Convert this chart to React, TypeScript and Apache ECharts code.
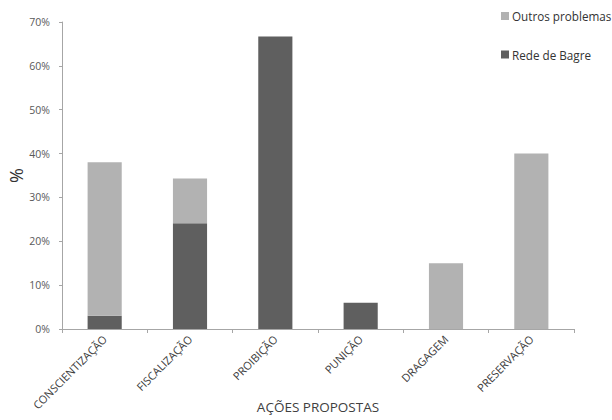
import React, { useEffect, useRef } from "react";
import * as echarts from "echarts";

const categories = ["CONSCIENTIZAÇÃO", "FISCALIZAÇÃO", "PROIBIÇÃO", "PUNIÇÃO", "DRAGAGEM", "PRESERVAÇÃO"];
const redeDeBagre = [3, 24.1, 66.7, 6, 0, 0];
const outrosProblemas = [35, 10.2, 0, 0, 15, 40];
const yTicks = { min: 0, max: 70, interval: 10 };

const FONT = "'Open Sans', 'Liberation Sans', sans-serif";

export default function App() {
  const ref = useRef<HTMLDivElement>(null);
  useEffect(() => {
    if (!ref.current) return;
    const chart = echarts.init(ref.current, null, { renderer: "svg" });
    chart.setOption({
      animation: false,
      textStyle: { fontFamily: FONT },
      grid: { left: 62, right: 38, top: 22, bottom: 91, containLabel: false, outerBoundsMode: "none" },
      legend: {
        orient: "vertical",
        left: 496,
        top: 4,
        itemWidth: 8,
        itemHeight: 8,
        itemGap: 24.5,
        icon: "rect",
        data: ["Outros problemas", "Rede de Bagre"],
        textStyle: { fontSize: 11.7, color: "#333", fontFamily: FONT, lineHeight: 14, padding: [0, 0, 0, -2] },
      },
      xAxis: {
        type: "category",
        data: categories,
        name: "AÇÕES PROPOSTAS",
        nameLocation: "middle",
        nameGap: 71,
        nameMoveOverlap: false,
        nameTextStyle: { fontSize: 13.5, color: "#404040", fontFamily: FONT },
        axisLine: { lineStyle: { color: "#a6a6a6" } },
        axisTick: { show: true, alignWithLabel: false, length: 4, lineStyle: { color: "#a6a6a6" } },
        axisLabel: { rotate: 45, fontSize: 11, color: "#404040", margin: 8, fontFamily: FONT, interval: 0 },
      },
      yAxis: {
        type: "value",
        min: yTicks.min,
        max: yTicks.max,
        interval: yTicks.interval,
        name: "%",
        nameLocation: "middle",
        nameGap: 37,
        nameMoveOverlap: false,
        nameRotate: 90,
        nameTextStyle: { fontSize: 18, color: "#333", fontFamily: FONT },
        axisLine: { show: true, lineStyle: { color: "#a6a6a6" } },
        axisTick: { show: true, length: 3, lineStyle: { color: "#a6a6a6" } },
        splitLine: { show: false },
        axisLabel: { formatter: "{value}%", fontSize: 10.5, color: "#595959", margin: 12, fontFamily: FONT },
      },
      series: [
        {
          name: "Rede de Bagre",
          type: "bar",
          stack: "total",
          barWidth: "40%",
          data: redeDeBagre,
          itemStyle: { color: "#5f5f5f" },
        },
        {
          name: "Outros problemas",
          type: "bar",
          stack: "total",
          barWidth: "40%",
          data: outrosProblemas,
          itemStyle: { color: "#b2b2b2" },
        },
      ],
    });
    return () => chart.dispose();
  }, []);
  return <div ref={ref} style={{ width: 612, height: 420, position: "absolute", left: 0, top: 0 }} />;
}
